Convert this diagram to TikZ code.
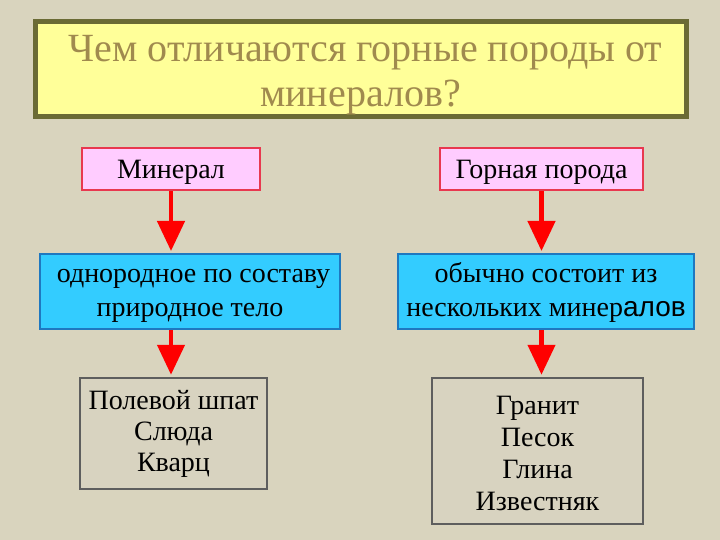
\documentclass[tikz,border=0pt]{standalone}
\usepackage{fontspec}
\setmainfont{Liberation Serif}
\setsansfont{Liberation Sans}
\usetikzlibrary{arrows.meta}

\definecolor{bgbeige}{HTML}{D9D4BE}
\definecolor{titlefill}{HTML}{FFFF99}
\definecolor{titleline}{HTML}{6B6B35}
\definecolor{titletext}{HTML}{A08A4E}
\definecolor{pinkfill}{HTML}{FFCCFF}
\definecolor{pinkline}{HTML}{E8384F}
\definecolor{bluefill}{HTML}{33CCFF}
\definecolor{blueline}{HTML}{1F78C0}
\definecolor{greyfill}{HTML}{D8D3C0}
\definecolor{greyline}{HTML}{5E5E5E}

\tikzset{
  textspan/.style 2 args={execute at begin node={\rule[-#1]{0pt}{#2}}},
  titlebox/.style={draw=titleline, line width=5pt, fill=titlefill, text=titletext,
    inner sep=0pt, align=center, font=\fontsize{40}{45}\selectfont,
    textspan={10pt}{95pt}},
  namebox/.style={draw=pinkline, line width=2pt, fill=pinkfill, inner sep=0pt,
    minimum height=42pt, font=\fontsize{28}{31}\selectfont, textspan={10pt}{40pt}},
  descbox/.style={draw=blueline, line width=2pt, fill=bluefill, inner sep=0pt,
    minimum height=75pt, align=center, font=\fontsize{28}{33.5}\selectfont,
    textspan={12pt}{73pt}},
  listbox/.style={draw=greyline, line width=2.5pt, fill=greyfill, inner sep=0pt,
    align=center}
}
\tikzset{
  flow/.style={red, line width=4.5pt, shorten >=2pt,
    -{Triangle[length=30pt,width=27pt]}}
}

\begin{document}
\begin{tikzpicture}[x=1pt,y=-1pt]
  \fill[bgbeige] (0,0) rectangle (720,540);
  \useasboundingbox (0,0) rectangle (720,540);

  \node[titlebox, minimum width=651pt, minimum height=95pt] (ttl) at (360.5,69.5)
    {\ Чем отличаются горные породы от\\минералов?};

  \node[namebox, minimum width=178pt] (mnr) at (171,169) {Минерал};
  \node[namebox, minimum width=203pt] (grp) at (541.5,169) {Горная порода};

  \node[descbox, minimum width=300pt] (mdsc) at (190,291.5)
    {\ однородное по составу\\природное тело};
  \node[descbox, minimum width=296pt] (gdsc) at (546,291.5)
    {обычно состоит из\\нескольких минер{\sffamily алов}};

  \node[listbox, font=\fontsize{28}{31}\selectfont, textspan={15pt}{105pt},
    minimum width=187pt, minimum height=111pt] (mlst) at (173.5,433.5)
    {Полевой шпат\\Слюда\\Кварц};
  \node[listbox, font=\fontsize{28}{31.7}\selectfont, textspan={12pt}{142pt},
    minimum width=211pt, minimum height=146pt] (glst) at (537.5,451)
    {Гранит\\Песок\\Глина\\Известняк};

  \draw[flow] (mnr.south) -- (mnr.south |- mdsc.north);
  \draw[flow] (grp.south) -- (grp.south |- gdsc.north);
  \draw[flow] (mdsc.south -| mnr.south) -- (mlst.north -| mnr.south);
  \draw[flow] (gdsc.south -| grp.south) -- (glst.north -| grp.south);
\end{tikzpicture}
\end{document}
